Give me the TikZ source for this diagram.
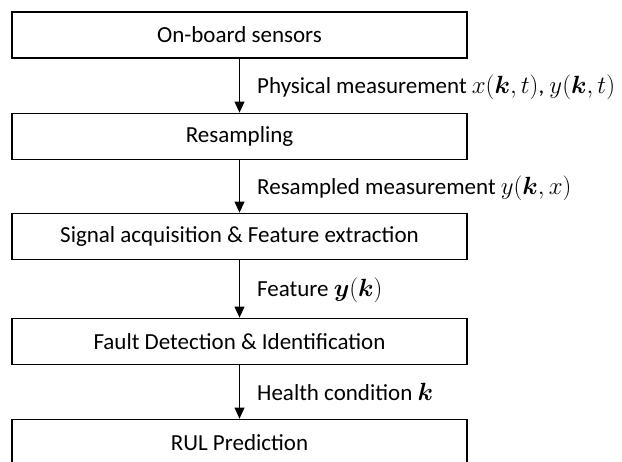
\documentclass[tikz,border=0pt]{standalone}
\usepackage{amsmath}
\usepackage{fontspec}
\setmainfont{Carlito}
\usetikzlibrary{arrows.meta}

\begin{document}
\begin{tikzpicture}[x=1pt, y=-1pt, font=\fontsize{23}{27}\selectfont]
  \tikzstyle{stage} = [rectangle, draw, line width=1.8pt, minimum width=455pt, minimum height=46pt, inner sep=0pt]
  \tikzstyle{flow} = [line width=0.9pt, -{Triangle[width=10pt,length=11pt]}]
  \tikzstyle{lbl} = [anchor=west, inner sep=0pt]

  \useasboundingbox (0,0) rectangle (622,462);
  \clip (0,0) rectangle (622,462);

  % Stages
  \node (sensors) [stage] at (239.5,35) {On-board sensors};
  \node (resample) [stage] at (239.5,136.5) {Resampling};
  \node (feature) [stage] at (239.5,236.5) {Signal acquisition \& Feature extraction};
  \node (fault) [stage] at (239.5,341.5) {Fault Detection \& Identification};
  \node (rul) [stage] at (239.5,442.5) {RUL Prediction};

  % Signals between stages
  \node (lphys) [lbl] at (257,87) {Physical measurement $x(\boldsymbol{k},t)$, $y(\boldsymbol{k},t)$};
  \node (lres) [lbl] at (257,188) {Resampled measurement $y(\boldsymbol{k},x)$};
  \node (lfeat) [lbl] at (257,290) {Feature $\boldsymbol{y}(\boldsymbol{k})$};
  \node (lhealth) [lbl] at (257,392) {Health condition $\boldsymbol{k}$};

  % Arrows
  \draw[flow] (sensors) -- (resample);
  \draw[flow] (resample) -- (feature);
  \draw[flow] (feature) -- (fault);
  \draw[flow] (fault) -- (rul);

\end{tikzpicture}
\end{document}
